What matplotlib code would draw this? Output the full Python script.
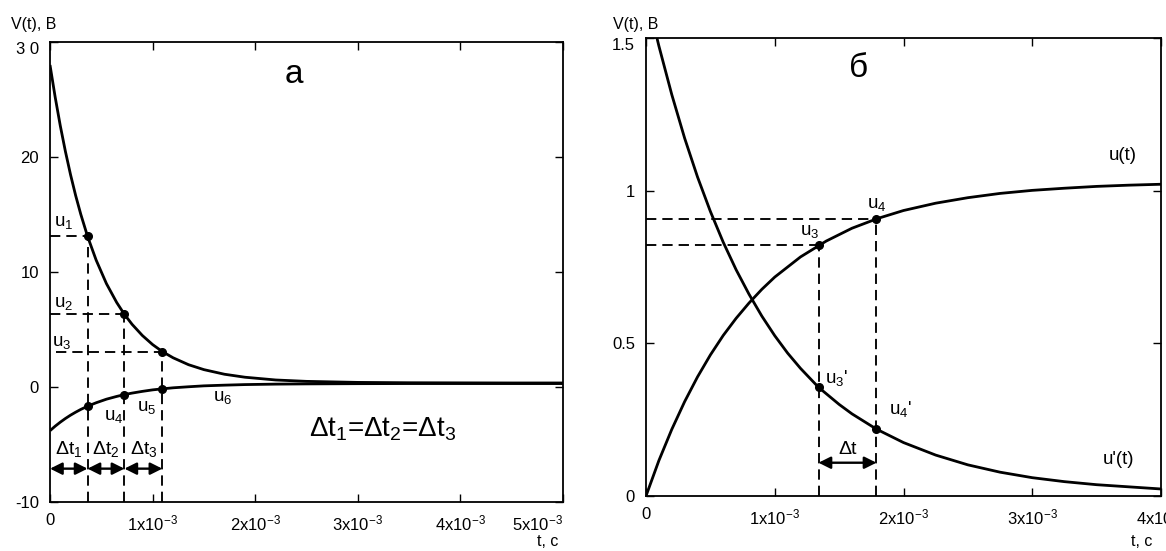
import matplotlib
matplotlib.use('Agg')
import matplotlib.pyplot as plt
import numpy as np

plt.rcParams['font.family'] = ['Liberation Sans', 'DejaVu Sans']
plt.rcParams['mathtext.fontset'] = 'custom'
plt.rcParams['mathtext.rm'] = 'Liberation Sans'
plt.rcParams['mathtext.it'] = 'Liberation Sans'
plt.rcParams['mathtext.bf'] = 'Liberation Sans:bold'

# ---------------- panel "а" data (t in ms, V in volts) ----------------
t_a_ms = [0, 0.05, 0.1, 0.15, 0.2, 0.25, 0.3, 0.366, 0.45, 0.55, 0.65, 0.725,
          0.8, 0.9, 1.0, 1.095, 1.2, 1.35, 1.5, 1.7, 1.9, 2.2, 2.5, 3.0, 3.5,
          4.0, 4.5, 5.0]
v_upper = [28.0, 25.23, 22.73, 20.49, 18.47, 16.65, 15.02, 13.10, 11.03, 8.99,
           7.35, 6.32, 5.45, 4.48, 3.69, 3.08, 2.54, 1.94, 1.51, 1.11, 0.85,
           0.61, 0.49, 0.40, 0.37, 0.36, 0.35, 0.35]
v_lower = [-3.80, -3.41, -3.06, -2.74, -2.45, -2.19, -1.95, -1.67, -1.37, -1.06,
           -0.82, -0.66, -0.53, -0.38, -0.25, -0.16, -0.07, 0.02, 0.10, 0.16,
           0.21, 0.25, 0.27, 0.29, 0.30, 0.30, 0.30, 0.30]
t_marks_a_ms = [0.366, 0.725, 1.095]
u_upper_marks = [13.10, 6.32, 3.08]
u_lower_marks = [-1.67, -0.66, -0.16]
xticks_a_ms = [0, 1, 2, 3, 4, 5]
xticklabels_a = ['0', r'$1\mathrm{x}10^{-3}$', r'$2\mathrm{x}10^{-3}$',
                 r'$3\mathrm{x}10^{-3}$', r'$4\mathrm{x}10^{-3}$',
                 r'$5\mathrm{x}10^{-3}$']
yticks_a = [-10, 0, 10, 20, 30]
yticklabels_a = ['-10', '0', '10', '20', '3 0']

# ---------------- panel "б" data ----------------
t_u_ms = [0, 0.1, 0.2, 0.3, 0.4, 0.5, 0.6, 0.7, 0.8, 0.9, 1.0, 1.2, 1.4, 1.6,
          1.8, 2.0, 2.25, 2.5, 2.75, 3.0, 3.25, 3.5, 3.75, 4.0]
u_vals = [0, 0.116, 0.218, 0.309, 0.390, 0.462, 0.526, 0.582, 0.632, 0.677,
          0.717, 0.783, 0.835, 0.877, 0.909, 0.935, 0.959, 0.977, 0.991, 1.001,
          1.008, 1.014, 1.018, 1.021]
t_du_ms = [0, 0.05, 0.1, 0.2, 0.3, 0.4, 0.5, 0.6, 0.7, 0.8, 0.9, 1.0, 1.1, 1.2,
           1.34, 1.5, 1.6, 1.79, 2.0, 2.25, 2.5, 2.75, 3.0, 3.25, 3.5, 3.75, 4.0]
du_vals = [1.654, 1.561, 1.474, 1.315, 1.172, 1.045, 0.932, 0.831, 0.741, 0.661,
           0.589, 0.525, 0.468, 0.418, 0.356, 0.300, 0.269, 0.219, 0.175, 0.134,
           0.102, 0.078, 0.060, 0.047, 0.037, 0.030, 0.023]
t_marks_b_ms = [1.34, 1.79]
u_marks_b = [0.821, 0.908]
du_marks_b = [0.356, 0.219]
xticks_b_ms = [0, 1, 2, 3, 4]
xticklabels_b = ['0', r'$1\mathrm{x}10^{-3}$', r'$2\mathrm{x}10^{-3}$',
                 r'$3\mathrm{x}10^{-3}$', r'$4\mathrm{x}10^{-3}$']
yticks_b = [0, 0.5, 1.0, 1.5]
yticklabels_b = ['0', '0.5', '1', '1.5']

MS = 1e-3
W, H = 1166, 551
fig = plt.figure(figsize=(W / 100, H / 100), dpi=100)

def px_axes(x0, y0, x1, y1):
    return fig.add_axes([x0 / W, 1 - y1 / H, (x1 - x0) / W, (y1 - y0) / H])

axA = px_axes(50, 42, 563, 502)
axB = px_axes(646, 38, 1161, 496)

dash = (0, (5.5, 3.2))
DASH_LW = 1.35
CURVE_LW = 2.0
MK = 5.5

def style(ax):
    for s in ax.spines.values():
        s.set_linewidth(1.3)
    ax.tick_params(direction='in', length=6, width=1.0, top=True, right=True,
                   labelsize=12)
    ax.tick_params(axis='x', pad=8)
    ax.tick_params(axis='y', pad=8)

def arrow(ax, x0, x1, y):
    ax.annotate('', xy=(x1, y), xytext=(x0, y),
                arrowprops=dict(arrowstyle='<|-|>', color='k', lw=1.7,
                                mutation_scale=18, shrinkA=0, shrinkB=0))

# ---------------- panel а ----------------
ta = np.array(t_a_ms) * MS
axA.plot(ta, v_upper, color='k', lw=CURVE_LW, solid_capstyle='butt')
axA.plot(ta, v_lower, color='k', lw=CURVE_LW, solid_capstyle='butt')
tm = np.array(t_marks_a_ms) * MS
for x, yu in zip(tm, u_upper_marks):
    axA.plot([x, x], [-10, yu], color='k', lw=DASH_LW, ls=dash)
axA.plot([0, tm[0]], [u_upper_marks[0]] * 2, color='k', lw=DASH_LW, ls=dash)
axA.plot([0, tm[1]], [u_upper_marks[1]] * 2, color='k', lw=DASH_LW, ls=dash)
axA.plot([0.06 * MS, tm[2]], [u_upper_marks[2]] * 2, color='k', lw=DASH_LW, ls=dash)
axA.plot(tm, u_upper_marks, 'o', color='k', ms=MK)
axA.plot(tm, u_lower_marks, 'o', color='k', ms=MK)

edges = [0] + list(tm)
for i in range(3):
    arrow(axA, edges[i], edges[i + 1], -7.1)
    axA.text((edges[i] + edges[i + 1]) / 2, -5.4, 'Δt$_%d$' % (i + 1),
             ha='center', va='center', fontsize=14)

for lbl, x, y in [('u$_1$', 0.13, 14.3), ('u$_2$', 0.13, 7.3),
                  ('u$_3$', 0.11, 3.9), ('u$_4$', 0.62, -2.6),
                  ('u$_5$', 0.94, -1.8), ('u$_6$', 1.68, -0.93)]:
    axA.text(x * MS, y, lbl, ha='center', va='center', fontsize=13.5)

axA.text(2.38 * MS, 27.2, 'а', ha='center', va='center', fontsize=24)
axA.text(3.24 * MS, -3.7, 'Δt$_1$=Δt$_2$=Δt$_3$', ha='center', va='center',
         fontsize=20)

axA.set_xlim(0, 5 * MS)
axA.set_ylim(-10, 30)
axA.set_xticks(np.array(xticks_a_ms) * MS, xticklabels_a)
axA.set_yticks(yticks_a, yticklabels_a)
style(axA)
axA.get_xticklabels()[-1].set_ha('right')
axA.get_yticklabels()[-1].set_va('top')

# ---------------- panel б ----------------
axB.plot(np.array(t_u_ms) * MS, u_vals, color='k', lw=CURVE_LW)
axB.plot(np.array(t_du_ms) * MS, du_vals, color='k', lw=CURVE_LW)
tb = np.array(t_marks_b_ms) * MS
for x, yu in zip(tb, u_marks_b):
    axB.plot([x, x], [0, yu], color='k', lw=DASH_LW, ls=dash)
    axB.plot([0, x], [yu, yu], color='k', lw=DASH_LW, ls=dash)
axB.plot(tb, u_marks_b, 'o', color='k', ms=MK)
axB.plot(tb, du_marks_b, 'o', color='k', ms=MK)
arrow(axB, tb[0], tb[1], 0.109)
axB.text((tb[0] + tb[1]) / 2, 0.152, 'Δt', ha='center', va='center', fontsize=14)

for lbl, x, y in [('u$_3$', 1.27, 0.865), ('u$_4$', 1.79, 0.955),
                  ("u$_3$'", 1.48, 0.385), ("u$_4$'", 1.98, 0.285),
                  ('u(t)', 3.70, 1.114), ("u'(t)", 3.67, 0.118)]:
    axB.text(x * MS, y, lbl, ha='center', va='center', fontsize=13.5)

axB.text(1.65 * MS, 1.40, 'б', ha='center', va='center', fontsize=24)

axB.set_xlim(0, 4 * MS)
axB.set_ylim(0, 1.5)
axB.set_xticks(np.array(xticks_b_ms) * MS, xticklabels_b)
axB.set_yticks(yticks_b, yticklabels_b)
style(axB)
axB.get_yticklabels()[-1].set_va('top')

# axis captions
fig.text(34 / W, 1 - 24 / H, 'V(t), B', ha='center', va='center', fontsize=11.5)
fig.text(636 / W, 1 - 25 / H, 'V(t), B', ha='center', va='center', fontsize=11.5)
fig.text(548 / W, 1 - 542 / H, 't, c', ha='center', va='center', fontsize=11.5)
fig.text(1142 / W, 1 - 542 / H, 't, c', ha='center', va='center', fontsize=11.5)

fig.savefig('out.png', dpi=100)
